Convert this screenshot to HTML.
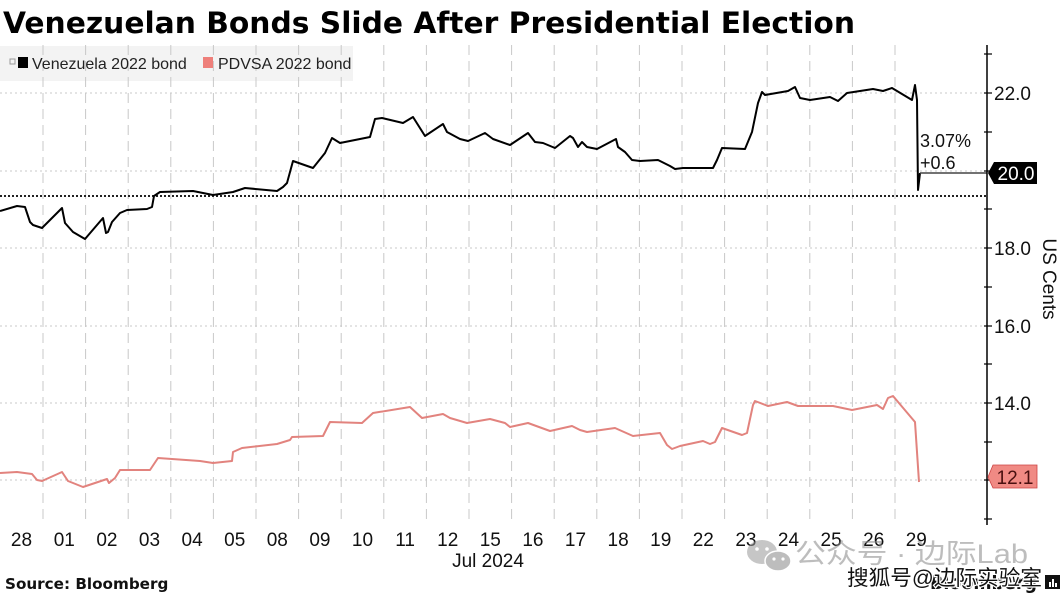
<!DOCTYPE html>
<html><head><meta charset="utf-8"><style>
html,body{margin:0;padding:0;background:#fff;}
svg{display:block;}
</style></head><body>
<svg width="1064" height="598" viewBox="0 0 1064 598" xmlns="http://www.w3.org/2000/svg">
<rect width="1064" height="598" fill="#fff"/>
<!-- title -->
<text x="3" y="33" font-family="DejaVu Sans, sans-serif" font-weight="bold" font-size="29.5" fill="#000" textLength="852" lengthAdjust="spacingAndGlyphs">Venezuelan Bonds Slide After Presidential Election</text>
<!-- legend bg -->
<rect x="0" y="46" width="353" height="35" fill="#f3f3f3"/>
<!-- vertical dashed gridlines -->
<g stroke="#c8c8c8" stroke-width="1" stroke-dasharray="10,6">
<line x1="43" y1="45" x2="43" y2="523"/><line x1="85.6" y1="45" x2="85.6" y2="523"/><line x1="128.2" y1="45" x2="128.2" y2="523"/><line x1="170.8" y1="45" x2="170.8" y2="523"/><line x1="213.4" y1="45" x2="213.4" y2="523"/><line x1="256" y1="45" x2="256" y2="523"/><line x1="298.6" y1="45" x2="298.6" y2="523"/><line x1="341.2" y1="45" x2="341.2" y2="523"/><line x1="383.8" y1="45" x2="383.8" y2="523"/><line x1="426.4" y1="45" x2="426.4" y2="523"/><line x1="469" y1="45" x2="469" y2="523"/><line x1="511.6" y1="45" x2="511.6" y2="523"/><line x1="554.2" y1="45" x2="554.2" y2="523"/><line x1="596.8" y1="45" x2="596.8" y2="523"/><line x1="639.4" y1="45" x2="639.4" y2="523"/><line x1="682" y1="45" x2="682" y2="523"/><line x1="724.6" y1="45" x2="724.6" y2="523"/><line x1="767.2" y1="45" x2="767.2" y2="523"/><line x1="809.8" y1="45" x2="809.8" y2="523"/><line x1="852.4" y1="45" x2="852.4" y2="523"/><line x1="895" y1="45" x2="895" y2="523"/>
</g>
<!-- horizontal dotted gridlines -->
<g stroke="#c8c8c8" stroke-width="1" stroke-dasharray="2,3">
<line x1="0" y1="93" x2="987" y2="93"/><line x1="0" y1="171" x2="987" y2="171"/><line x1="0" y1="248" x2="987" y2="248"/><line x1="0" y1="326" x2="987" y2="326"/><line x1="0" y1="403" x2="987" y2="403"/><line x1="0" y1="480" x2="987" y2="480"/>
</g>
<!-- reference dotted line -->
<line x1="0" y1="196" x2="987" y2="196" stroke="#222" stroke-width="2" stroke-dasharray="2,2"/>
<!-- legend content -->
<rect x="10" y="59" width="5" height="5" fill="none" stroke="#999" stroke-width="1"/>
<rect x="18" y="57" width="10" height="11" fill="#000"/>
<text x="32" y="69" font-family="Liberation Sans, sans-serif" font-size="16" fill="#222">Venezuela 2022 bond</text>
<rect x="203" y="57" width="10" height="11" fill="#ee7f7a"/>
<text x="218" y="69" font-family="Liberation Sans, sans-serif" font-size="16" fill="#222">PDVSA 2022 bond</text>
<!-- pink series -->
<polyline fill="none" stroke="#e2837e" stroke-width="2" stroke-linejoin="round" points="0,473 17,472 32,474 37,480 42,481 62,472 68,481 83,487 107,479 109,483 115,478 120,470 150,470 158,458 200,461 213,463 232,461 233,452 242,448 277,444 290,440 292,437 323,436 330,422 362,423 373,413 410,407 422,418 443,414 450,418 467,423 490,419 505,423 510,427 528,423 550,431 572,426 580,430 587,432 615,428 633,436 660,433 667,445 672,449 680,446 703,441 710,444 715,442 722,428 742,435 747,433 753,405 755,401 768,406 787,402 798,406 833,406 852,410 877,405 883,409 888,398 893,396 915,422 919,482"/>
<!-- black series -->
<polyline fill="none" stroke="#000" stroke-width="2" stroke-linejoin="round" points="0,211 17,206 25,207 30,222 33,225 42,228 62,208 65,223 73,232 85,239 103,218 106,233 108,232 112,222 120,213 127,210 147,209 152,207 154,196 160,192 193,191 213,195 233,192 245,188 277,191 283,187 287,183 293,161 313,168 325,153 332,138 340,143 360,139 370,137 375,119 382,118 403,123 413,117 425,136 443,124 447,132 460,139 468,141 485,133 493,139 510,145 528,133 535,142 543,143 555,148 570,136 573,138 578,147 582,142 587,147 597,149 616,139 618,147 625,152 632,160 640,161 658,160 670,166 675,169 683,168 713,168 717,160 722,148 745,149 752,132 758,103 762,92 765,95 788,91 795,87 800,98 810,100 830,97 838,101 847,93 873,89 883,91 892,88 912,100 915,85 917,100 918,190 920,173"/>
<!-- annotation -->
<line x1="920" y1="173" x2="987" y2="173" stroke="#444" stroke-width="1.5"/>
<text x="920" y="147" font-family="Liberation Sans, sans-serif" font-size="18" fill="#111">3.07%</text>
<text x="920" y="169" font-family="Liberation Sans, sans-serif" font-size="18" fill="#111">+0.6</text>
<!-- axis -->
<line x1="987" y1="45" x2="987" y2="525" stroke="#000" stroke-width="1.5"/>
<g stroke="#000" stroke-width="1.2">
<line x1="984" y1="54" x2="992" y2="54"/><line x1="984" y1="93" x2="992" y2="93"/><line x1="984" y1="132" x2="992" y2="132"/><line x1="984" y1="171" x2="992" y2="171"/><line x1="984" y1="209" x2="992" y2="209"/><line x1="984" y1="248" x2="992" y2="248"/><line x1="984" y1="287" x2="992" y2="287"/><line x1="984" y1="326" x2="992" y2="326"/><line x1="984" y1="364" x2="992" y2="364"/><line x1="984" y1="403" x2="992" y2="403"/><line x1="984" y1="442" x2="992" y2="442"/><line x1="984" y1="480" x2="992" y2="480"/><line x1="984" y1="519" x2="992" y2="519"/>
</g>
<g font-family="Liberation Sans, sans-serif" font-size="19" fill="#111">
<text x="994" y="100">22.0</text>
<text x="994" y="255">18.0</text>
<text x="994" y="333">16.0</text>
<text x="994" y="410">14.0</text>
</g>
<!-- value boxes -->
<polygon points="988,173 994,162 1037,162 1037,184 994,184" fill="#000"/>
<text x="1016" y="180" font-family="Liberation Sans, sans-serif" font-size="19" fill="#fff" text-anchor="middle">20.0</text>
<polygon points="988,477 993,465 1037,465 1037,488 993,488" fill="#f08a84" stroke="#c44" stroke-width="0.8"/>
<text x="1015" y="484" font-family="Liberation Sans, sans-serif" font-size="19" fill="#4a1010" text-anchor="middle">12.1</text>
<!-- y title -->
<text transform="translate(1043,279) rotate(90)" font-family="Liberation Sans, sans-serif" font-size="19" fill="#111" text-anchor="middle">US Cents</text>
<!-- x labels -->
<g font-family="Liberation Sans, sans-serif" font-size="19" fill="#111" text-anchor="middle">
<text x="21.5" y="546">28</text><text x="64.3" y="546">01</text><text x="106.9" y="546">02</text><text x="149.5" y="546">03</text><text x="192.1" y="546">04</text><text x="234.7" y="546">05</text><text x="277.3" y="546">08</text><text x="319.9" y="546">09</text><text x="362.5" y="546">10</text><text x="405.1" y="546">11</text><text x="447.7" y="546">12</text><text x="490.3" y="546">15</text><text x="532.9" y="546">16</text><text x="575.5" y="546">17</text><text x="618.1" y="546">18</text><text x="660.7" y="546">19</text><text x="703.3" y="546">22</text><text x="745.9" y="546">23</text><text x="788.5" y="546">24</text><text x="831.1" y="546">25</text><text x="873.7" y="546">26</text><text x="916.3" y="546">29</text>
<text x="488" y="567">Jul 2024</text>
</g>
<!-- source -->
<text x="5" y="589" font-family="DejaVu Sans, sans-serif" font-weight="bold" font-size="15.2" fill="#111">Source: Bloomberg</text>
<!-- watermark -->
<g opacity="0.55">
<ellipse cx="762" cy="552" rx="15" ry="12" fill="#999"/>
<ellipse cx="778" cy="561" rx="13" ry="10" fill="#888" stroke="#fff" stroke-width="1.5"/>
<circle cx="757" cy="549" r="1.8" fill="#fff"/><circle cx="767" cy="549" r="1.8" fill="#fff"/>
<circle cx="774" cy="559" r="1.6" fill="#fff"/><circle cx="783" cy="559" r="1.6" fill="#fff"/>
<text x="795" y="563" font-family="Liberation Sans, Noto Sans CJK SC, sans-serif" font-size="27" fill="#888" textLength="233" lengthAdjust="spacingAndGlyphs">公众号 · 边际Lab</text>
</g>
<text x="930" y="589" font-family="DejaVu Sans, sans-serif" font-weight="bold" font-size="19" fill="#111" textLength="107" lengthAdjust="spacingAndGlyphs">Bloomberg</text>
<rect x="1045" y="575" width="15" height="14" fill="#111"/>
<g fill="#fff"><rect x="1049" y="582" width="2" height="5"/><rect x="1052" y="579" width="2" height="8"/><rect x="1055" y="583" width="2" height="4"/></g>
<text x="847" y="585" font-family="Liberation Sans, Noto Sans CJK SC, sans-serif" font-size="21" fill="#111" stroke="#fff" stroke-width="2.5" paint-order="stroke" textLength="195" lengthAdjust="spacingAndGlyphs">搜狐号@边际实验室</text>
</svg>
</body></html>
